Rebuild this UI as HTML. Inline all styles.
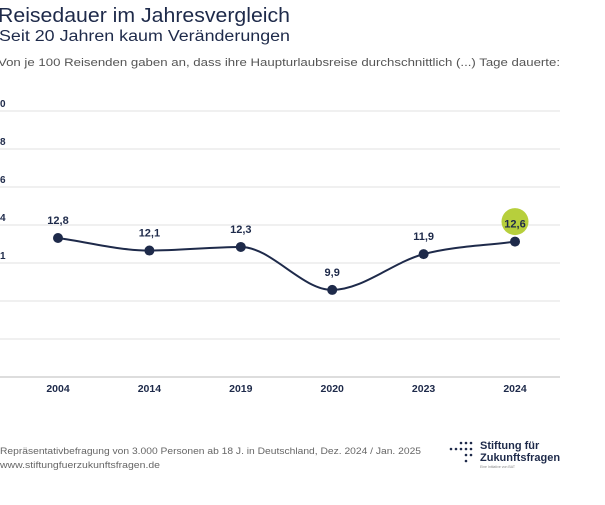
<!DOCTYPE html>
<html><head><meta charset="utf-8"><style>
body{margin:0;background:#fff;width:605px;height:505px;overflow:hidden;font-family:"Liberation Sans",sans-serif}
svg{display:block}
</style></head><body>
<svg width="605" height="505">
<text x="-2" y="22" font-size="20" fill="#1e2a4a" textLength="292" lengthAdjust="spacingAndGlyphs">Reisedauer im Jahresvergleich</text>
<text x="-1" y="41" font-size="15.5" fill="#1e2a4a" textLength="291" lengthAdjust="spacingAndGlyphs">Seit 20 Jahren kaum Veränderungen</text>
<text x="-2" y="66" font-size="11" fill="#555" textLength="562" lengthAdjust="spacingAndGlyphs">Von je 100 Reisenden gaben an, dass ihre Haupturlaubsreise durchschnittlich (...) Tage dauerte:</text>
<g id="grid"></g>
<g id="plot"></g>
<text x="0" y="454" font-size="9" fill="#666" textLength="421" lengthAdjust="spacingAndGlyphs">Repräsentativbefragung von 3.000 Personen  ab 18 J. in Deutschland, Dez. 2024 / Jan. 2025</text>
<text x="0" y="468" font-size="9" fill="#666" textLength="160" lengthAdjust="spacingAndGlyphs">www.stiftungfuerzukunftsfragen.de</text>
<g>
<g fill="#1e2a4a">
<circle cx="461" cy="443" r="1.3"/><circle cx="466" cy="443" r="1.3"/><circle cx="471" cy="443" r="1.3"/>
<circle cx="451" cy="449" r="1.3"/><circle cx="456" cy="449" r="1.3"/><circle cx="461" cy="449" r="1.3"/><circle cx="466" cy="449" r="1.3"/><circle cx="471" cy="449" r="1.3"/>
<circle cx="466" cy="455" r="1.3"/><circle cx="471" cy="455" r="1.3"/><circle cx="466" cy="461" r="1.3"/>
</g>
<text x="480" y="449" font-size="11" font-weight="bold" fill="#1e2a4a">Stiftung für</text>
<text x="480" y="461" font-size="11" font-weight="bold" fill="#1e2a4a">Zukunftsfragen</text>
<text x="480" y="468" font-size="3.5" fill="#888">Eine Initiative von BAT</text>
</g>
</svg>
<script>
const categories=["2004","2014","2019","2020","2023","2024"];
const values=[12.8,12.1,12.3,9.9,11.9,12.6];
const valueLabels=["12,8","12,1","12,3","9,9","11,9","12,6"];
const tickLabels=["0","8","6","4","1"];
const NS="http://www.w3.org/2000/svg";
function mk(t,a,p){const e=document.createElementNS(NS,t);for(const k in a)e.setAttribute(k,a[k]);p.appendChild(e);return e;}
const xScale=i=>58+i*91.4;
const yScale=v=>238-(v-12.8)*17.9;
const grid=document.getElementById('grid'),plot=document.getElementById('plot');
for(let i=0;i<8;i++){
  const y=111+i*38;
  const l=mk('line',{x1:0,x2:560,y1:y,y2:y,stroke:i==7?'#bbb':'#e2e2e2','stroke-width':1},grid);
  
  
}
tickLabels.forEach((t,i)=>{
  const e=mk('text',{x:0,y:107+i*38,'font-size':10,'font-weight':'bold',fill:'#1e2a4a'},grid);e.textContent=t;
  
  
});
categories.forEach((c,i)=>{
  const e=mk('text',{x:xScale(i),y:392,'font-size':10.5,'font-weight':'bold',fill:'#1e2a4a','text-anchor':'middle'},grid);e.textContent=c;
  
  
});
const P=values.map((v,i)=>[xScale(i),yScale(v)]);
const n=P.length,d=[],m=[];
for(let i=0;i<n-1;i++)d.push((P[i+1][1]-P[i][1])/(P[i+1][0]-P[i][0]));
m[0]=d[0];m[n-1]=d[n-2];
for(let i=1;i<n-1;i++)m[i]=d[i-1]*d[i]<=0?0:(d[i-1]+d[i])/2;
let path=`M${P[0][0]},${P[0][1]}`;
for(let i=0;i<n-1;i++){const h=(P[i+1][0]-P[i][0])/3;
path+=` C${P[i][0]+h},${P[i][1]+m[i]*h} ${P[i+1][0]-h},${P[i+1][1]-m[i+1]*h} ${P[i+1][0]},${P[i+1][1]}`;}
const line=mk('path',{d:path,fill:'none',stroke:'#1e2a4a','stroke-width':2},plot);


values.forEach((v,i)=>{
  const last=i==n-1,x=xScale(i),y=yScale(v);
  if(last){const h=mk('circle',{cx:x,cy:y-20,r:13.5,fill:'#b7cf3c'},plot);
    
    }
  const c=mk('circle',{cx:x,cy:y,r:5,fill:'#1e2a4a'},plot);
  
  
  const t=mk('text',{x:x,y:y-14,'font-size':11,'font-weight':'bold',fill:'#1e2a4a','text-anchor':'middle'},plot);t.textContent=valueLabels[i];
  
  
});
</script>
</body></html>
